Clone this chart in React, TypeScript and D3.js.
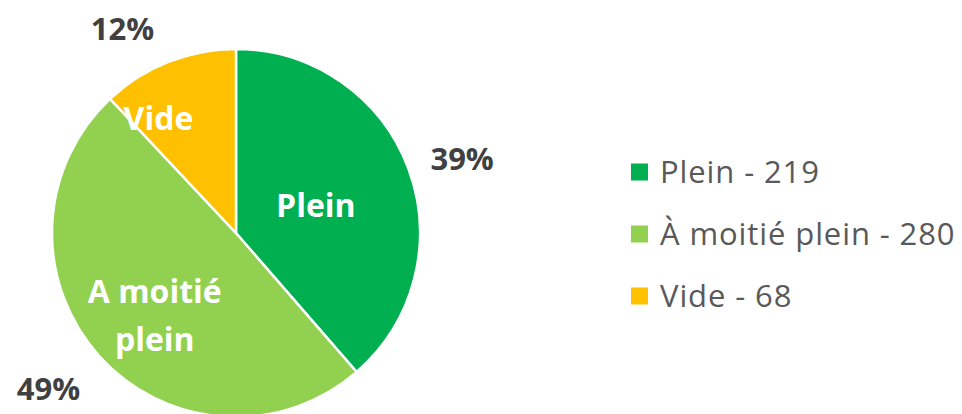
import * as React from "react";
import * as d3 from "d3";

const categories = ["Plein", "À moitié plein", "Vide"];
const values = [219, 280, 68];
const sliceLabels = [["Plein"], ["A moitié", "plein"], ["Vide"]];
const colors = ["#00B050", "#92D050", "#FFC000"];

const width = 962;
const height = 414;

// label placement: angle shift (rad) and distance from centre, per slice
const innerPlace = [
  { da: 0.02, r: 0.46 },
  { da: -0.06, r: 0.63 },
  { da: -0.22, r: 0.75 },
];
const outerPlace = [
  { da: 0.04, r: 238 },
  { da: 0.04, r: 244 },
  { da: -0.13, r: 234 },
];

const App = () => {
  const cx = 236;
  const cy = 233;
  const radius = 184;
  const total = d3.sum(values);

  const pie = d3.pie<number>().sort(null)(values);
  const arc = d3.arc<d3.PieArcDatum<number>>().innerRadius(0).outerRadius(radius);

  const at = (slice: d3.PieArcDatum<number>, da: number, r: number) => {
    const a = (slice.startAngle + slice.endAngle) / 2 + da;
    return [Math.sin(a) * r, -Math.cos(a) * r];
  };

  const font = "'Open Sans', 'Noto Sans', sans-serif";

  return (
    <svg width={width} height={height} style={{ position: "absolute", left: 0, top: 0 }}>
      <g transform={`translate(${cx},${cy})`}>
        {pie.map((slice, i) => (
          <path key={i} d={arc(slice) || ""} fill={colors[i]} stroke="#fff" strokeWidth={2.5} />
        ))}
        {pie.map((slice, i) => {
          const [x, y] = at(slice, innerPlace[i].da, radius * innerPlace[i].r);
          const lines = sliceLabels[i];
          const lh = 48;
          return (
            <text key={"in" + i} x={x} y={y} textAnchor="middle" fill="#fff"
              fontFamily={font} fontWeight={700} fontSize={32}>
              {lines.map((l, j) => (
                <tspan key={j} x={x} y={y + (j - (lines.length - 1) / 2) * lh} dy="0.36em">{l}</tspan>
              ))}
            </text>
          );
        })}
        {pie.map((slice, i) => {
          const [x, y] = at(slice, outerPlace[i].da, outerPlace[i].r);
          return (
            <text key={"out" + i} x={x} y={y} dy="0.36em" textAnchor="middle" fill="#404040"
              fontFamily={font} fontWeight={700} fontSize={31}>
              {d3.format(".0%")(values[i] / total)}
            </text>
          );
        })}
      </g>
      <g transform="translate(631,0)">
        {categories.map((c, i) => {
          const y = 172 + i * 62;
          return (
            <g key={c}>
              <rect x={0} y={y - 8.5} width={17} height={17} fill={colors[i]} />
              <text x={29} y={y} dy="0.36em" fill="#595959" fontFamily={font} fontSize={31}
                letterSpacing={0.9}>
                {`${c} - ${values[i]}`}
              </text>
            </g>
          );
        })}
      </g>
    </svg>
  );
};

export default App;
